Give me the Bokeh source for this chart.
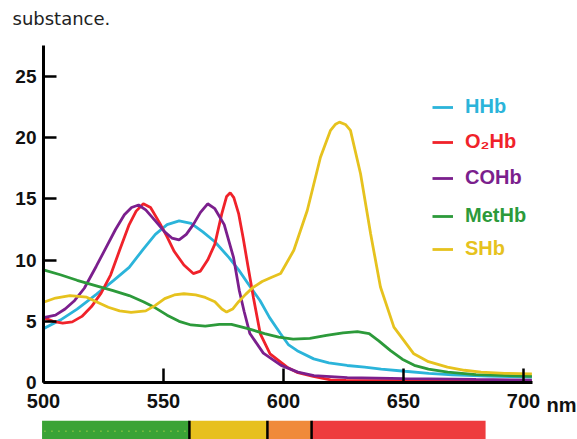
from bokeh.plotting import figure
from bokeh.models import Range1d, FixedTicker, Legend, LegendItem
from bokeh.layouts import column, row
from bokeh.core.properties import value
from bokeh.embed import file_html
from bokeh.resources import INLINE

# ---------------- data ----------------
hhb_nm = [500, 507, 514, 522, 529, 535.7, 541.6, 546.6, 551.5, 556.5, 561.5, 566.4, 571.4, 577.3,
          581.3, 586.2, 590.2, 594.2, 598.7, 602, 605.7, 612.6, 618.9, 626.5, 633.8, 640.7, 650.6,
          660.5, 670.4, 685.2, 703.5]
hhb = [4.4, 5.1, 6.0, 7.2, 8.3, 9.4, 10.9, 12.1, 12.9, 13.2, 13.0, 12.3, 11.5, 10.2,
       9.2, 7.8, 6.7, 5.3, 4.0, 3.1, 2.6, 1.93, 1.6, 1.39, 1.25, 1.1, 0.92,
       0.75, 0.62, 0.52, 0.45]

o2hb_nm = [500, 504, 508, 512, 516, 520, 524, 528, 531.7, 535.7, 538.6, 541.6, 544.6, 548.5,
           551.5, 554.5, 558.5, 562.4, 565.4, 568.4, 571.4, 574.3, 576.3, 577.8, 579.3, 581.3,
           583.2, 585.2, 587.5, 590.3, 594.4, 601.5, 606, 612.4, 619.6, 626, 650.6, 703.5]
o2hb = [5.3, 5.0, 4.85, 4.95, 5.4, 6.2, 7.3, 8.8, 10.8, 12.9, 14.0, 14.6, 14.3, 13.0,
        11.9, 10.7, 9.6, 8.9, 9.1, 10.0, 11.3, 13.8, 15.2, 15.5, 15.1, 13.8,
        11.8, 9.5, 6.9, 4.0, 2.34, 1.25, 0.8, 0.5, 0.22, 0.18, 0.15, 0.1]

cohb_nm = [500, 505, 509, 513, 517, 522, 526, 530, 533.7, 536.7, 539.6, 542.6, 546.6, 550.5,
           553.5, 556.5, 559.5, 562.4, 565.4, 568.4, 571.4, 575.3, 579.2, 581.6, 583.6, 586,
           591.6, 599, 606, 612.7, 626.6, 650.6, 680.2, 703.5]
cohb = [5.3, 5.5, 6.0, 6.7, 7.7, 9.5, 11.0, 12.5, 13.7, 14.3, 14.5, 14.1, 13.2, 12.3,
        11.8, 11.65, 12.1, 12.9, 13.9, 14.6, 14.2, 12.9, 10.2, 7.5, 5.8, 4.0,
        2.4, 1.4, 0.85, 0.57, 0.4, 0.32, 0.25, 0.2]

methb_nm = [500, 507, 514, 522, 529, 535.7, 541.6, 546.6, 551.5, 556.5, 561.5, 567.4, 573.3,
            578.3, 585.2, 592.1, 598, 604, 611, 617.9, 624.8, 630.8, 635.7, 639.7, 644.6,
            649.5, 654.5, 660.4, 668.4, 680.2, 703.5]
methb = [9.2, 8.8, 8.35, 7.9, 7.5, 7.1, 6.6, 6.1, 5.5, 5.0, 4.7, 4.6, 4.75,
         4.75, 4.4, 4.0, 3.7, 3.55, 3.6, 3.85, 4.05, 4.15, 4.0, 3.4, 2.6,
         1.9, 1.4, 1.1, 0.84, 0.65, 0.5]

shb_nm = [500, 505, 511, 518, 522, 527, 531.7, 536.5, 542.6, 546.6, 550.5, 554.5, 558.5,
          563.4, 567.4, 571.4, 574.3, 576.3, 578.8, 581.3, 584.2, 587.2, 591.1, 595.1, 598.8,
          604.3, 609.9, 615.4, 619.6, 621.7, 623.3, 625.8, 627.9, 632.1, 636.3, 640.4, 646,
          654.3, 660.4, 668.3, 675.4, 682.3, 692.2, 703.5]
shb = [6.56, 6.9, 7.1, 6.97, 6.6, 6.15, 5.85, 5.72, 5.85, 6.3, 6.85, 7.15, 7.25,
       7.15, 6.95, 6.6, 6.0, 5.75, 6.0, 6.6, 7.2, 7.75, 8.25, 8.6, 8.9,
       10.8, 14.05, 18.4, 20.6, 21.1, 21.27, 21.08, 20.6, 17.05, 12.15, 7.8, 4.52,
       2.34, 1.7, 1.25, 1.0, 0.84, 0.75, 0.7]

series_names = ["HHb", "O\u2082Hb", "COHb", "MetHb", "SHb"]
series_x = [hhb_nm, o2hb_nm, cohb_nm, methb_nm, shb_nm]
series_y = [hhb, o2hb, cohb, methb, shb]
series_colors = ["#2bb4da", "#f0222a", "#7b1f8d", "#2c9a3a", "#e6c21e"]

x_ticks = [500, 550, 600, 650, 700]
y_ticks = [0, 5, 10, 15, 20, 25]
x_unit = "nm"
intro_text = "substance."

# spectrum band under the axis (nm)
band_start = [499.4, 560.8, 593.3, 611.7]
band_end = [560.8, 593.3, 611.7, 684.2]
band_colors = ["#3aa336", "#e7c01e", "#f08a3a", "#ee3c3e"]
band_dividers = [560.8, 593.3, 611.7]

FONT = "Liberation Sans"


def strip(width, height, xr, yr):
    f = figure(width=width, height=height, x_range=xr, y_range=yr,
               output_backend="svg", toolbar_location=None, x_axis_location=None,
               y_axis_location=None, min_border_left=0, min_border_right=0,
               min_border_top=0, min_border_bottom=0)
    f.outline_line_color = None
    f.grid.visible = False
    return f


# ---------------- intro text strip ----------------
top = strip(577, 45, Range1d(0, 577), Range1d(0, 45))
top.text(x=[12], y=[27], text=[intro_text], text_baseline="middle",
         text_font=value("DejaVu Sans"), text_font_size="18px", text_color="#222222")

# ---------------- main figure ----------------
p = figure(width=545, height=375, x_range=Range1d(500, 703.75), y_range=Range1d(0, 27.53),
           output_backend="svg", toolbar_location=None,
           min_border_left=43, min_border_right=13, min_border_top=0, min_border_bottom=38)
p.outline_line_color = None
p.grid.visible = False
p.background_fill_color = "white"

for ax, ticks in ((p.xaxis[0], x_ticks), (p.yaxis[0], y_ticks)):
    ax.ticker = FixedTicker(ticks=ticks)
    ax.axis_line_width = 3
    ax.axis_line_color = "black"
    ax.major_tick_line_width = 2.5
    ax.major_tick_line_color = "black"
    ax.major_tick_out = 0
    ax.minor_tick_line_color = None
    ax.major_label_text_font = FONT
    ax.major_label_text_font_style = "bold"
    ax.major_label_text_color = "#111111"
p.xaxis.major_tick_in = 14
p.yaxis.major_tick_in = 13
p.xaxis.major_label_text_font_size = "20px"
p.yaxis.major_label_text_font_size = "19px"
p.xaxis.major_label_standoff = 11
p.yaxis.major_label_standoff = 7

renderers = []
for xs, ys, c in zip(series_x, series_y, series_colors):
    renderers.append(p.line(xs, ys, line_color=c, line_width=2.8))

legend_pos = [264, 229, 193, 155, 122]
for name, r, c, yy in zip(series_names, renderers, series_colors, legend_pos):
    lg = Legend(items=[LegendItem(label=name, renderers=[r])], location=(389, yy),
                glyph_width=21, glyph_height=20, label_height=20, label_standoff=12,
                padding=0, margin=0, spacing=0, border_line_color=None,
                background_fill_alpha=0, label_text_font=FONT, label_text_font_size="20px",
                label_text_font_style="bold", label_text_color=c)
    p.add_layout(lg)

# ---------------- unit label ("nm") at the right end of the x axis ----------------
unit = figure(width=32, height=375, x_range=Range1d(545, 577), y_range=Range1d(0, 27.53),
              output_backend="svg", toolbar_location=None, y_axis_location=None,
              min_border_left=0, min_border_right=0, min_border_top=0, min_border_bottom=38)
unit.outline_line_color = None
unit.grid.visible = False
ux = unit.xaxis[0]
ux.ticker = FixedTicker(ticks=[561])
ux.major_label_overrides = {561: x_unit}
ux.axis_line_color = None
ux.major_tick_line_color = None
ux.minor_tick_line_color = None
ux.major_tick_in = 0
ux.major_tick_out = 0
ux.major_label_standoff = 11
ux.major_label_text_font = FONT
ux.major_label_text_font_size = "20px"
ux.major_label_text_font_style = "bold"
ux.major_label_text_color = "#111111"

# ---------------- spectrum bar ----------------
bar = strip(577, 19, Range1d(482.083, 722.5), Range1d(0, 1))
bar.quad(left=band_start, right=band_end, bottom=0, top=1, fill_color=band_colors, line_color=None)
bar.segment(x0=band_dividers, x1=band_dividers, y0=0, y1=1, line_color="black", line_width=2.5)
bar.line([band_start[0] + 1, band_end[0] - 1.5], [0.44, 0.44], line_color="#a6cf48",
         line_width=1.5, line_dash="1 6")

layout = column(top, row(p, unit, spacing=0), bar, spacing=0)
open("out.html", "w").write(file_html(layout, INLINE))
